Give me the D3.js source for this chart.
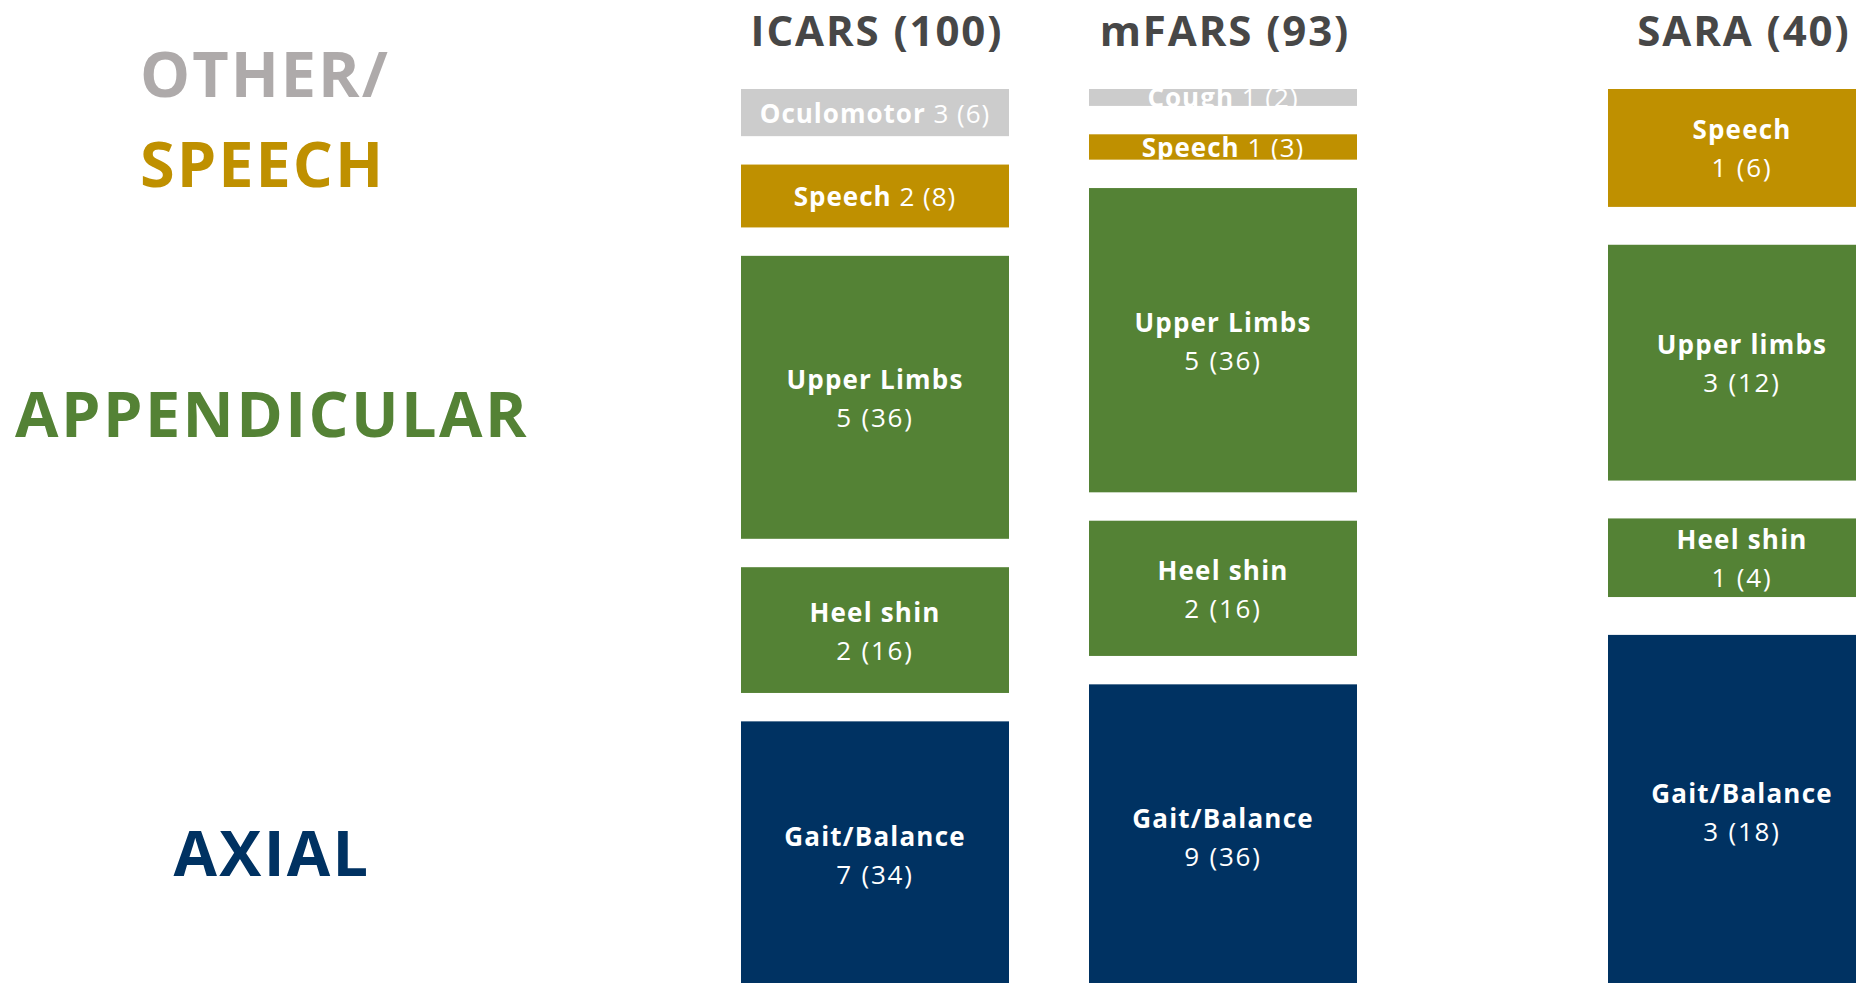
<!DOCTYPE html>
<html>
<head>
<meta charset="utf-8">
<script src="https://cdn.jsdelivr.net/npm/d3@7"></script>
<style>
  html, body { margin: 0; padding: 0; background: #ffffff; overflow: hidden; }
  svg { display: block; }
</style>
</head>
<body>
<svg id="chart" width="1856" height="983"></svg>
<script>
// ---------------- DATA ----------------
const columns      = ["ICARS", "mFARS", "SARA"];
const columnTotals = [100, 93, 40];

const icarsNames  = ["Oculomotor", "Speech", "Upper Limbs", "Heel shin", "Gait/Balance"];
const icarsItems  = [3, 2, 5, 2, 7];
const icarsPoints = [6, 8, 36, 16, 34];
const icarsGroups = ["other", "speech", "appendicular", "appendicular", "axial"];

const mfarsNames  = ["Cough", "Speech", "Upper Limbs", "Heel shin", "Gait/Balance"];
const mfarsItems  = [1, 1, 5, 2, 9];
const mfarsPoints = [2, 3, 36, 16, 36];
const mfarsGroups = ["other", "speech", "appendicular", "appendicular", "axial"];

const saraNames  = ["Speech", "Upper limbs", "Heel shin", "Gait/Balance"];
const saraItems  = [1, 3, 1, 3];
const saraPoints = [6, 12, 4, 18];
const saraGroups = ["speech", "appendicular", "appendicular", "axial"];

const groupKeys   = ["other", "speech", "appendicular", "axial"];
const groupTitles = ["OTHER/", "SPEECH", "APPENDICULAR", "AXIAL"];

// ---------------- STYLE / LAYOUT ----------------
const barColor  = d3.scaleOrdinal().domain(groupKeys).range(["#cccccc", "#bf9000", "#548235", "#003262"]);
const textColor = d3.scaleOrdinal().domain(groupKeys).range(["#aeaaaa", "#bf9000", "#548235", "#003262"]);
const FONT = "'Open Sans', 'Noto Sans', sans-serif";

const svg = d3.select("#chart");
const colTop = 89, colBottom = 988.6, gapTotal = 113.6, barWidth = 268;

const xCenter = d3.scaleOrdinal().domain(columns).range([875, 1223, 1742]);

const tables = [
  {names: icarsNames, items: icarsItems, points: icarsPoints, groups: icarsGroups},
  {names: mfarsNames, items: mfarsItems, points: mfarsPoints, groups: mfarsGroups},
  {names: saraNames,  items: saraItems,  points: saraPoints,  groups: saraGroups}
];

const defs = svg.append("defs");

columns.forEach((col, ci) => {
  const t = tables[ci];
  const n = t.names.length;
  const gap = gapTotal / (n - 1);
  const y = d3.scaleLinear().domain([0, columnTotals[ci]]).range([0, colBottom - colTop - gapTotal]);
  const cx = xCenter(col);
  const g = svg.append("g");

  // title
  g.append("text")
    .attr("x", cx + 2).attr("y", 46)
    .attr("text-anchor", "middle")
    .attr("font-family", FONT).attr("font-weight", 700)
    .attr("font-size", 42).attr("letter-spacing", 1.9)
    .attr("fill", "#474747")
    .text(`${col} (${columnTotals[ci]})`);

  let cum = 0;
  t.names.forEach((name, i) => {
    const y0 = colTop + y(cum) + gap * i;
    const h = y(t.points[i]);
    cum += t.points[i];
    const id = `clip-${ci}-${i}`;
    defs.append("clipPath").attr("id", id)
      .append("rect").attr("x", cx - barWidth / 2).attr("y", y0)
      .attr("width", barWidth).attr("height", h);

    g.append("rect")
      .attr("x", cx - barWidth / 2).attr("y", y0)
      .attr("width", barWidth).attr("height", h)
      .attr("fill", barColor(t.groups[i]));

    const c = y0 + h / 2;
    const lbl = g.append("g").attr("clip-path", `url(#${id})`)
      .attr("font-family", FONT).attr("font-size", 26)
      .attr("fill", "#ffffff").attr("text-anchor", "middle");
    const val = `${t.items[i]} (${t.points[i]})`;
    if (h < 70) {
      const tx = lbl.append("text").attr("x", cx).attr("y", c + 10).attr("letter-spacing", 1.0);
      tx.append("tspan").attr("font-weight", 700).text(name + " ");
      tx.append("tspan").attr("font-weight", 400).text(val);
    } else {
      lbl.append("text").attr("x", cx).attr("y", c - 8.5)
        .attr("font-weight", 700).attr("letter-spacing", 1.2).text(name);
      lbl.append("text").attr("x", cx).attr("y", c + 29.5)
        .attr("font-weight", 400).attr("letter-spacing", 1.8).text(val);
    }
  });
});

// group labels on the left
const groupLabelPos = [
  {x: 140, y: 96.7, anchor: "start"},
  {x: 140, y: 186.7, anchor: "start"},
  {x: 272, y: 436.5, anchor: "middle"},
  {x: 272, y: 876, anchor: "middle"}
];
const groupLabelSpacing = [2, 2, 2.4, 2.3];
groupKeys.forEach((k, i) => {
  svg.append("text")
    .attr("x", groupLabelPos[i].x).attr("y", groupLabelPos[i].y)
    .attr("text-anchor", groupLabelPos[i].anchor)
    .attr("font-family", FONT).attr("font-weight", 700)
    .attr("font-size", 63).attr("letter-spacing", groupLabelSpacing[i])
    .attr("fill", textColor(k))
    .text(groupTitles[i]);
});
</script>
</body>
</html>
